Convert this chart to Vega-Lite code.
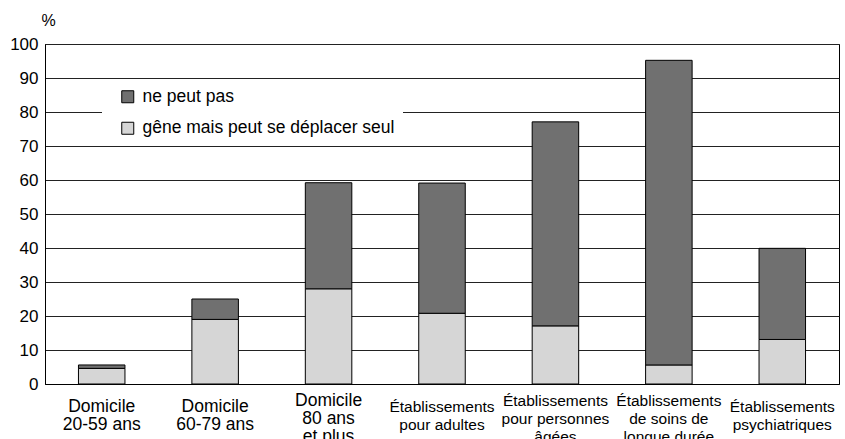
{
  "$schema": "https://vega.github.io/schema/vega-lite/v6.json",
  "autosize": "none",
  "width": 794,
  "height": 340,
  "padding": {"left": 45, "top": 44, "right": 6, "bottom": 55},
  "background": "white",
  "config": {
    "font": "Liberation Sans",
    "view": {"stroke": "#000", "strokeWidth": 1}
  },
  "data": {
    "values": [
      {"lieu": "Domicile|20-59 ans", "type": "gêne mais peut se déplacer seul", "pct": 4.6},
      {"lieu": "Domicile|20-59 ans", "type": "ne peut pas", "pct": 1.0},
      {"lieu": "Domicile|60-79 ans", "type": "gêne mais peut se déplacer seul", "pct": 19.0},
      {"lieu": "Domicile|60-79 ans", "type": "ne peut pas", "pct": 6.0},
      {"lieu": "Domicile|80 ans|et plus", "type": "gêne mais peut se déplacer seul", "pct": 28.0},
      {"lieu": "Domicile|80 ans|et plus", "type": "ne peut pas", "pct": 31.2},
      {"lieu": "Établissements|pour adultes", "type": "gêne mais peut se déplacer seul", "pct": 20.8},
      {"lieu": "Établissements|pour adultes", "type": "ne peut pas", "pct": 38.3},
      {"lieu": "Établissements|pour personnes|âgées", "type": "gêne mais peut se déplacer seul", "pct": 17.1},
      {"lieu": "Établissements|pour personnes|âgées", "type": "ne peut pas", "pct": 60.0},
      {"lieu": "Établissements|de soins de|longue durée", "type": "gêne mais peut se déplacer seul", "pct": 5.6},
      {"lieu": "Établissements|de soins de|longue durée", "type": "ne peut pas", "pct": 89.6},
      {"lieu": "Établissements|psychiatriques", "type": "gêne mais peut se déplacer seul", "pct": 13.1},
      {"lieu": "Établissements|psychiatriques", "type": "ne peut pas", "pct": 26.8}
    ]
  },
  "mark": {"type": "bar", "stroke": "#000", "strokeWidth": 1},
  "encoding": {
    "x": {
      "field": "lieu",
      "type": "nominal",
      "sort": null,
      "scale": {"paddingInner": 0.59, "paddingOuter": 0.295},
      "axis": {
        "title": null,
        "labelAngle": 0,
        "labelExpr": "split(datum.label, '|')",
        "labelFontSize": {"condition": {"test": "indexof(datum.value, 'Domicile') === 0", "value": 17.5}, "value": 15.5},
        "labelColor": "#000",
        "labelBaseline": "middle",
        "labelLineHeight": 18,
        "labelPadding": {"condition": {"test": "length(split(datum.value, '|')) > 2", "value": 16}, "value": 22},
        "labelOverlap": false,
        "labelBound": false,
        "labelFlush": false,
        "ticks": false,
        "domainColor": "#000",
        "domainWidth": 1
      }
    },
    "y": {
      "field": "pct",
      "type": "quantitative",
      "stack": "zero",
      "scale": {"domain": [0, 100], "nice": false},
      "axis": {
        "title": "%",
        "titleAngle": 0,
        "titleX": 3,
        "titleY": -24,
        "titleAlign": "center",
        "titleBaseline": "middle",
        "titleFontSize": 16,
        "titleFontWeight": "normal",
        "titleColor": "#000",
        "values": [0, 10, 20, 30, 40, 50, 60, 70, 80, 90, 100],
        "labelFontSize": 17,
        "labelColor": "#000",
        "labelPadding": 7,
        "ticks": false,
        "domainColor": "#000",
        "grid": true,
        "gridColor": "#222",
        "gridWidth": 1
      }
    },
    "order": {"field": "type", "sort": "ascending"},
    "color": {
      "field": "type",
      "type": "nominal",
      "scale": {
        "domain": ["ne peut pas", "gêne mais peut se déplacer seul"],
        "range": ["#707070", "#d6d6d6"]
      },
      "legend": {
        "title": null,
        "orient": "none",
        "legendX": 57,
        "legendY": 36,
        "fillColor": "white",
        "padding": 8,
        "symbolOffset": 9,
        "symbolType": "square",
        "symbolSize": 144,
        "symbolStrokeColor": "#000",
        "symbolStrokeWidth": 1,
        "symbolOpacity": 1,
        "labelFontSize": 17.5,
        "labelColor": "#000",
        "labelOffset": 6,
        "labelLimit": 400,
        "rowPadding": 12.5
      }
    }
  }
}
